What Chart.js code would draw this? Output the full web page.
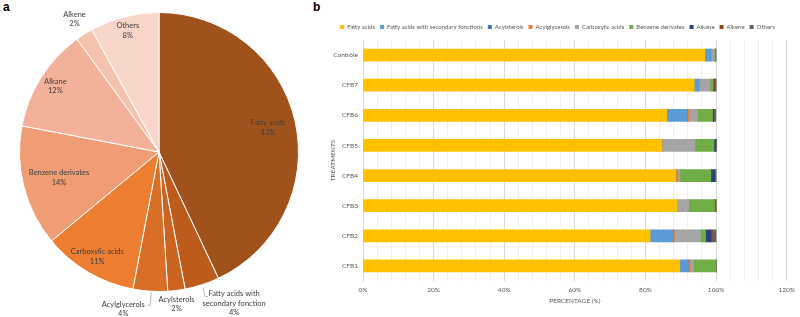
<!DOCTYPE html>
<html>
<head>
<meta charset="utf-8">
<script src="https://cdn.jsdelivr.net/npm/chart.js@4/dist/chart.umd.min.js"></script>
<style>
  html, body { margin: 0; padding: 0; background: #fff; }
  body { width: 800px; height: 317px; position: relative; overflow: hidden; font-family: Lato, sans-serif; }
  #pieChart { position: absolute; left: 0; top: 0; }
  #barChart { position: absolute; left: 300px; top: 0; }
  .panel { position: absolute; top: 0px; font: bold 12px "Liberation Sans", Arial, sans-serif; color: #000; }
</style>
</head>
<body>
<div class="panel" style="left:3px;">a</div>
<div class="panel" style="left:313px;">b</div>
<canvas id="pieChart" width="300" height="317"></canvas>
<canvas id="barChart" width="500" height="317"></canvas>

<script>
// PIE (a) data
const pieLabels = ["Fatty acids", "Fatty acids with\nsecondary fonction", "Acylsterols", "Acylglycerols",
    "Carboxylic acids", "Benzene derivates", "Alkane", "Alkene", "Others"];
const pieValues = [43, 4, 2, 4, 11, 14, 12, 2, 8];
const pieColors = ["#A0521D", "#BC5B1C", "#CB6420", "#D96E27", "#ED7D31", "#F09C74", "#F2B198", "#F4C3AE", "#F8D5C9"];

// BAR (b) data
const treatments = ["Contrôle", "CFB7", "CFB6", "CFB5", "CFB4", "CFB3", "CFB2", "CFB1"];
const seriesNames = ["Fatty acids", "Fatty acids with secondary fonctions", "Acylsterols", "Acylglycerols",
    "Carboxylic acids", "Benzene derivates", "Alkane", "Alkene", "Others"];
const fattyAcids     = [96.8, 93.8, 86.0, 84.7, 88.6, 89.0, 81.3, 89.7];
const fattySecondary = [1.7, 1.3, 5.8, 0, 0, 0, 6.5, 2.4];
const acylsterols    = [0, 0, 0, 0, 0, 0, 0, 0];
const acylglycerols  = [0, 0, 0.5, 0, 0.6, 0, 0.4, 0.6];
const carboxylic     = [1.0, 3.2, 2.4, 9.3, 0.5, 3.2, 7.3, 0.9];
const benzene        = [0.3, 0.9, 4.3, 5.4, 8.8, 7.4, 1.5, 6.4];
const alkane         = [0, 0.2, 0.3, 0.6, 1.1, 0, 1.5, 0];
const alkene         = [0, 0.5, 0, 0, 0, 0.4, 0.4, 0];
const others         = [0.2, 0.1, 0.6, 0, 0.4, 0, 1.1, 0];
const barColors = ["#FFC000", "#5B9BD5", "#4472C4", "#ED7D31", "#A5A5A5", "#70AD47", "#264478", "#9E480E", "#636363"];

const textGray = "#595959";

// label placement for the pie: inside labels use a radius factor (block centred),
// outside labels start (first line) at an offset from the slice edge
const pieLabelPos = [
    { f: 0.80 },
    { edge: true, dx: 32, dy: 9, leader: [[1, 3], [3, 12], [6, 12]] },
    { edge: true, dx: 0, dy: 9 },
    { edge: true, dx: -27, dy: 13, leader: [[1, 1], [0, 14], [-3, 14]] },
    { f: 0.87 },
    { f: 0.74 },
    { f: 0.88 },
    { f: 1.13 },
    { f: 0.90 }
];

const pieLabelPlugin = {
    id: 'pieLabels',
    afterDatasetsDraw(chart) {
        const ctx = chart.ctx;
        const meta = chart.getDatasetMeta(0);
        ctx.save();
        ctx.font = '7.5px Lato, sans-serif';
        ctx.fillStyle = '#404040';
        ctx.textAlign = 'center';
        ctx.textBaseline = 'middle';
        const lh = 9.5;
        meta.data.forEach((arc, i) => {
            const mid = (arc.startAngle + arc.endAngle) / 2;
            const r = arc.outerRadius;
            const pos = pieLabelPos[i];
            const lines = pieLabels[i].split('\n').concat([pieValues[i] + '%']);
            let x, y0;
            if (pos.edge) {
                const ex = arc.x + Math.cos(mid) * r;
                const ey = arc.y + Math.sin(mid) * r;
                x = ex + pos.dx;
                y0 = ey + pos.dy;
                if (pos.leader) {
                    ctx.strokeStyle = '#a6a6a6';
                    ctx.lineWidth = 0.8;
                    ctx.beginPath();
                    pos.leader.forEach((p, k) => {
                        if (k === 0) ctx.moveTo(ex + p[0], ey + p[1]);
                        else ctx.lineTo(ex + p[0], ey + p[1]);
                    });
                    ctx.stroke();
                }
            } else {
                x = arc.x + Math.cos(mid) * r * pos.f;
                const y = arc.y + Math.sin(mid) * r * pos.f;
                y0 = y - (lines.length - 1) * lh / 2;
            }
            lines.forEach((ln, k) => ctx.fillText(ln, x, y0 + k * lh));
        });
        ctx.restore();
    }
};

function drawPie() {
    new Chart(document.getElementById('pieChart'), {
        type: 'pie',
        data: {
            labels: pieLabels,
            datasets: [{
                data: pieValues,
                backgroundColor: pieColors,
                borderColor: '#ffffff',
                borderWidth: 1,
                hoverOffset: 0
            }]
        },
        options: {
            responsive: false,
            animation: false,
            layout: { padding: { left: 19, right: 1, top: 12, bottom: 25 } },
            plugins: { legend: { display: false }, tooltip: { enabled: false } }
        },
        plugins: [pieLabelPlugin]
    });
}

function drawBars() {
    const seriesData = [fattyAcids, fattySecondary, acylsterols, acylglycerols, carboxylic, benzene, alkane, alkene, others];
    const datasets = seriesNames.map((name, i) => ({
        label: name,
        data: seriesData[i],
        backgroundColor: barColors[i],
        barThickness: 12
    }));

    new Chart(document.getElementById('barChart'), {
        type: 'bar',
        data: { labels: treatments, datasets: datasets },
        options: {
            indexAxis: 'y',
            responsive: false,
            animation: false,
            layout: { padding: { left: 25, right: 10, top: 19, bottom: 12 } },
            scales: {
                x: {
                    stacked: true,
                    min: 0,
                    max: 120,
                    afterFit: s => { s.height = 24; },
                    ticks: {
                        stepSize: 4,
                        autoSkip: false,
                        maxRotation: 0,
                        padding: 5,
                        color: textGray,
                        font: { family: 'Lato', size: 6.5 },
                        callback: v => (v % 20 === 0 ? v + '%' : '')
                    },
                    grid: {
                        drawTicks: false,
                        color: c => (c.tick && c.tick.value % 20 === 0 ? '#d9d9d9' : '#efefef'),
                        lineWidth: 1
                    },
                    border: { display: false },
                    title: {
                        display: true,
                        text: 'PERCENTAGE (%)',
                        color: textGray,
                        padding: 0,
                        font: { family: 'Lato', size: 6.5 }
                    }
                },
                y: {
                    stacked: true,
                    afterFit: s => { s.width = 38; },
                    ticks: {
                        padding: 5,
                        color: textGray,
                        font: { family: 'Lato', size: 6.5 }
                    },
                    grid: { display: false, drawTicks: false },
                    border: { display: true, color: '#d9d9d9' },
                    title: {
                        display: true,
                        text: 'TREATMENTS',
                        color: textGray,
                        padding: { top: 4, bottom: 0 },
                        font: { family: 'Lato', size: 6.5 }
                    }
                }
            },
            plugins: {
                tooltip: { enabled: false },
                legend: {
                    position: 'top',
                    labels: {
                        boxWidth: 4,
                        boxHeight: 4,
                        padding: 5,
                        color: textGray,
                        font: { family: 'Lato', size: 6.0 }
                    }
                }
            }
        }
    });
}

document.addEventListener('DOMContentLoaded', function() {
    drawPie();
    drawBars();
});
</script>
</body>
</html>
